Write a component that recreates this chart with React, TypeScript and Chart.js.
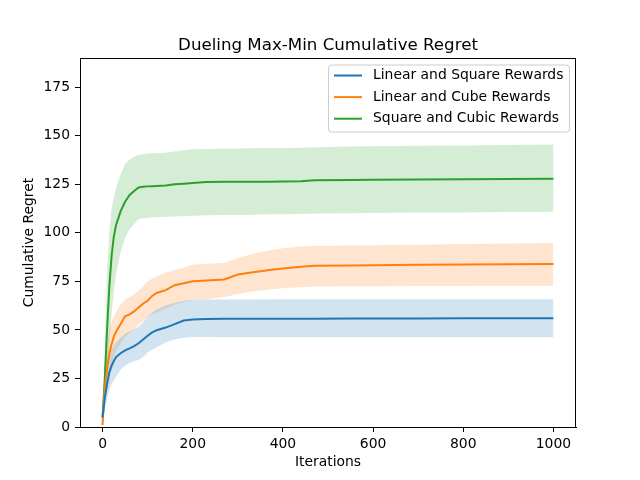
import { useEffect, useRef } from 'react';
import Chart from 'chart.js/auto';

// iteration checkpoints
const iterations = [0, 5, 10, 15, 20, 25, 30, 40, 50, 60, 70, 80, 90, 100, 110, 120, 140, 160, 180, 200, 230, 270, 300, 330, 370, 400, 440, 470, 550, 600, 700, 800, 900, 1000];

const squareMean = [5, 15, 22, 28, 31.5, 34, 36, 38, 39.5, 40.5, 41.7, 43.1, 45, 47, 48.7, 49.8, 51.2, 53, 54.8, 55.4, 55.6, 55.7, 55.7, 55.7, 55.8, 55.8, 55.8, 55.8, 55.9, 55.9, 55.9, 56, 56, 56];
const squareUpper = [6, 22, 30, 37, 40, 42, 43.5, 46, 48, 49.3, 50.3, 51.7, 54, 56.5, 59, 60.5, 62.5, 64, 65, 65.5, 65.6, 65.7, 65.7, 65.7, 65.8, 65.8, 65.8, 65.8, 65.8, 65.8, 65.8, 65.8, 65.8, 65.8];
const squareLower = [4, 9, 14, 19, 22, 24, 26, 29.5, 31.5, 33, 33.8, 34.5, 36, 38.5, 39.7, 41, 43.5, 45, 46, 46.3, 46.3, 46.2, 46.2, 46.2, 46.2, 46.2, 46.2, 46.2, 46.2, 46.2, 46.2, 46.2, 46.2, 46.2];

const cubeMean = [1, 20, 30, 38, 42.5, 46.5, 49, 53, 57, 58, 59.5, 61.5, 63.5, 65, 67.5, 69, 70.5, 73, 74, 75, 75.4, 76, 78.5, 79.5, 80.8, 81.6, 82.5, 83, 83.2, 83.3, 83.5, 83.7, 83.8, 83.9];
const cubeUpper = [2, 30, 42, 51, 54, 57, 59, 63, 65.5, 67, 68.5, 70, 72.5, 75, 76.5, 77.5, 79.5, 81, 82, 83.5, 84, 84.4, 87, 89, 91, 92, 93, 93.3, 93.5, 93.6, 93.8, 94.2, 94.5, 94.7];
const cubeLower = [0.5, 12, 20, 28, 32, 36, 39, 43, 46.5, 48.5, 50.5, 52.6, 54.5, 56.5, 58, 59, 61, 63, 64.5, 65.5, 65.8, 67, 68.5, 69.8, 70.8, 71.5, 72, 72.3, 72.5, 72.5, 72.6, 72.6, 72.7, 72.7];

const cubicMean = [5, 25, 50, 72, 88, 98, 104, 111, 116, 119.5, 121.5, 123.3, 123.7, 123.9, 124.0, 124.1, 124.4, 125.0, 125.3, 125.6, 126.1, 126.3, 126.3, 126.3, 126.3, 126.4, 126.5, 127.0, 127.2, 127.3, 127.5, 127.6, 127.7, 127.8];
const cubicUpper = [6, 40, 80, 100, 112, 118, 123, 130, 135.5, 137.8, 139.2, 140.2, 140.6, 140.8, 140.9, 141.0, 141.2, 141.8, 142.5, 143.0, 143.2, 143.3, 143.4, 143.5, 143.6, 143.7, 143.8, 144.0, 144.4, 144.6, 144.8, 145.0, 145.2, 145.4];
const cubicLower = [4, 12, 25, 42, 58, 70, 79, 90, 97.5, 102, 104.5, 107, 107.5, 107.8, 107.9, 108.0, 108.2, 108.4, 108.6, 108.8, 109.0, 109.1, 109.2, 109.3, 109.5, 109.6, 109.7, 109.9, 110.1, 110.2, 110.4, 110.5, 110.7, 110.8];

const seriesLabels = ['Linear and Square Rewards', 'Linear and Cube Rewards', 'Square and Cubic Rewards'];
const lineColors = ['#1f77b4', '#ff7f0e', '#2ca02c'];
const bandColors = ['rgba(31,119,180,0.2)', 'rgba(255,127,14,0.2)', 'rgba(44,160,44,0.2)'];

const FONT = '"DejaVu Sans", sans-serif';

const pts = (ys: number[]) => ys.map((y, i) => ({ x: iterations[i], y }));

// frame, title and legend in matplotlib style
const decorations = {
    id: 'decorations',
    afterDraw(chart: any) {
        const { ctx, chartArea } = chart;
        const { left, right, top, bottom } = chartArea;
        ctx.save();
        ctx.strokeStyle = '#000';
        ctx.lineWidth = 1;
        ctx.strokeRect(left + 0.5, top + 0.5, right - left - 1, bottom - top);

        ctx.fillStyle = '#000';
        ctx.font = `16.67px ${FONT}`;
        ctx.textAlign = 'center';
        ctx.textBaseline = 'alphabetic';
        ctx.fillText('Dueling Max-Min Cumulative Regret', (left + right) / 2, 50);

        // legend box
        const bx = 328.5, by = 65, bw = 241, bh = 67, r = 3;
        ctx.beginPath();
        ctx.moveTo(bx + r, by);
        ctx.arcTo(bx + bw, by, bx + bw, by + bh, r);
        ctx.arcTo(bx + bw, by + bh, bx, by + bh, r);
        ctx.arcTo(bx, by + bh, bx, by, r);
        ctx.arcTo(bx, by, bx + bw, by, r);
        ctx.closePath();
        ctx.fillStyle = 'rgba(255,255,255,0.8)';
        ctx.fill();
        ctx.strokeStyle = '#cccccc';
        ctx.stroke();

        ctx.font = `13.9px ${FONT}`;
        ctx.textAlign = 'left';
        ctx.textBaseline = 'middle';
        seriesLabels.forEach((label, i) => {
            const yy = 75.5 + i * 21.6;
            ctx.strokeStyle = lineColors[i];
            ctx.lineWidth = 2;
            ctx.beginPath();
            ctx.moveTo(334, yy);
            ctx.lineTo(362, yy);
            ctx.stroke();
            ctx.fillStyle = '#000';
            ctx.fillText(label, 373, yy);
        });
        ctx.restore();
    }
};

const App = () => {
    const chartRef = useRef<HTMLCanvasElement>(null);

    useEffect(() => {
        if (!chartRef.current) return;
        const ctx = chartRef.current.getContext('2d');
        if (!ctx) return;

        const lines = [squareMean, cubeMean, cubicMean].map((ys, i) => ({
            label: seriesLabels[i],
            data: pts(ys),
            borderColor: lineColors[i],
            borderWidth: 2,
            pointRadius: 0,
            fill: false,
            tension: 0
        }));
        const bands: any[] = [];
        [[squareUpper, squareLower], [cubeUpper, cubeLower], [cubicUpper, cubicLower]].forEach(([up, lo], i) => {
            bands.push({
                label: 'upper' + i,
                data: pts(up),
                borderWidth: 0,
                borderColor: 'rgba(0,0,0,0)',
                backgroundColor: bandColors[i],
                pointRadius: 0,
                fill: '+1'
            });
            bands.push({
                label: 'lower' + i,
                data: pts(lo),
                borderWidth: 0,
                borderColor: 'rgba(0,0,0,0)',
                pointRadius: 0,
                fill: false
            });
        });

        const chart = new Chart(ctx, {
            type: 'line',
            data: { datasets: [...lines, ...bands] },
            options: {
                animation: false,
                responsive: false,
                devicePixelRatio: 1,
                layout: { padding: { top: 58, right: 64, left: 0, bottom: 0 } },
                plugins: {
                    legend: { display: false },
                    title: { display: false },
                    tooltip: { enabled: false }
                },
                scales: {
                    x: {
                        type: 'linear',
                        min: -50,
                        max: 1050,
                        afterFit: (s: any) => { s.height = 53; },
                        ticks: {
                            stepSize: 200,
                            includeBounds: false,
                            color: '#000',
                            padding: 4,
                            maxRotation: 0,
                            callback: (v: any) => String(v),
                            font: { family: FONT, size: 13.9 }
                        },
                        grid: { display: true, drawOnChartArea: false, drawTicks: true, tickLength: 5, color: '#000' },
                        border: { display: true, color: '#000', width: 1 },
                        title: {
                            display: true,
                            text: 'Iterations',
                            color: '#000',
                            font: { family: FONT, size: 13.9 },
                            padding: { top: 0, bottom: 9 }
                        }
                    },
                    y: {
                        type: 'linear',
                        min: 0,
                        max: 190,
                        afterFit: (s: any) => { s.width = 80; },
                        ticks: {
                            stepSize: 25,
                            includeBounds: false,
                            color: '#000',
                            padding: 5,
                            callback: (v: any) => String(v),
                            font: { family: FONT, size: 13.9 }
                        },
                        grid: { display: true, drawOnChartArea: false, drawTicks: true, tickLength: 5, color: '#000' },
                        border: { display: true, color: '#000', width: 1 },
                        title: {
                            display: true,
                            text: 'Cumulative Regret',
                            color: '#000',
                            font: { family: FONT, size: 13.9 },
                            padding: { top: 21, bottom: 0 }
                        }
                    }
                }
            },
            plugins: [decorations]
        });

        return () => {
            chart.destroy();
        };
    }, []);

    return (
        <div style={{ position: 'absolute', left: 0, top: 0, width: 640, height: 480, background: '#fff' }}>
            <canvas ref={chartRef} width={640} height={480} />
        </div>
    );
};

export default App;
